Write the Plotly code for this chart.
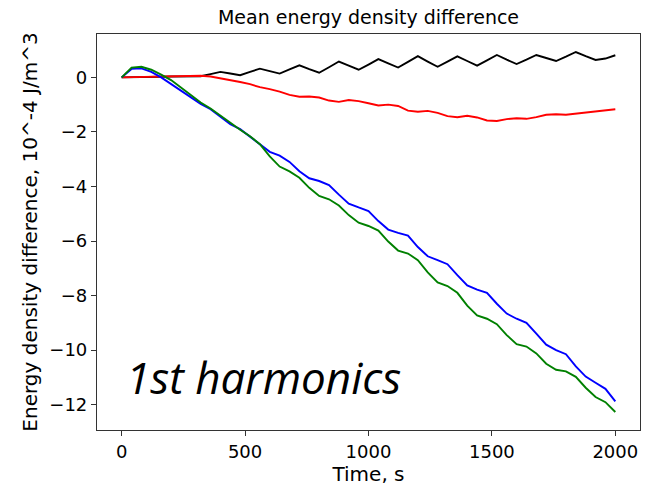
import plotly.graph_objects as go

# Sample times (s)
time_s = [0, 40, 80, 120, 160, 200, 240, 280, 320, 360, 400, 440, 480, 520, 560, 600,
          640, 680, 720, 760, 800, 840, 880, 920, 960, 1000, 1040, 1080, 1120, 1160,
          1200, 1240, 1280, 1320, 1360, 1400, 1440, 1480, 1520, 1560, 1600, 1640, 1680,
          1720, 1760, 1800, 1840, 1880, 1920, 1960, 2000]

# Mean energy density difference, 10^-4 J/m^3
black_vals = [0.0, 0.0, 0.01, 0.02, 0.02, 0.03, 0.03, 0.03, 0.04, 0.12, 0.2, 0.14, 0.08,
              0.2, 0.32, 0.23, 0.14, 0.29, 0.44, 0.3, 0.17, 0.37, 0.58, 0.43, 0.28, 0.47,
              0.67, 0.51, 0.36, 0.57, 0.78, 0.58, 0.39, 0.58, 0.77, 0.6, 0.43, 0.62, 0.82,
              0.65, 0.49, 0.65, 0.82, 0.71, 0.6, 0.76, 0.93, 0.78, 0.64, 0.69, 0.81]

red_vals = [0.0, 0.01, 0.02, 0.03, 0.04, 0.05, 0.06, 0.06, 0.06, 0.03, -0.03, -0.1, -0.17,
            -0.25, -0.36, -0.43, -0.52, -0.64, -0.71, -0.7, -0.74, -0.85, -0.9, -0.83,
            -0.87, -0.95, -1.03, -1.0, -1.05, -1.22, -1.26, -1.23, -1.3, -1.42, -1.46,
            -1.41, -1.47, -1.58, -1.6, -1.53, -1.5, -1.52, -1.46, -1.37, -1.35, -1.37,
            -1.33, -1.27, -1.23, -1.21, -1.17]

blue_vals = [0.0, 0.31, 0.33, 0.2, 0.0, -0.24, -0.48, -0.73, -0.97, -1.17, -1.45, -1.72,
             -1.9, -2.17, -2.47, -2.73, -2.87, -3.1, -3.44, -3.7, -3.8, -3.95, -4.3, -4.63,
             -4.77, -4.9, -5.27, -5.58, -5.7, -5.8, -6.22, -6.56, -6.7, -6.85, -7.25,
             -7.63, -7.78, -7.9, -8.3, -8.66, -8.85, -9.0, -9.4, -9.8, -10.0, -10.15,
             -10.6, -10.97, -11.2, -11.42, -11.88]

green_vals = [0.0, 0.36, 0.39, 0.28, 0.1, -0.1, -0.37, -0.65, -0.92, -1.14, -1.4, -1.68,
              -1.92, -2.16, -2.45, -2.9, -3.27, -3.45, -3.68, -4.05, -4.35, -4.47, -4.7,
              -5.05, -5.33, -5.45, -5.62, -6.02, -6.35, -6.46, -6.7, -7.15, -7.52, -7.65,
              -7.9, -8.37, -8.73, -8.85, -9.05, -9.45, -9.78, -9.87, -10.12, -10.5,
              -10.72, -10.78, -10.98, -11.38, -11.72, -11.91, -12.27]

x_ticks = [0, 500, 1000, 1500, 2000]
y_ticks = [0, -2, -4, -6, -8, -10, -12]

series = [
    (black_vals, "black"),
    (red_vals, "#ff0000"),
    (blue_vals, "#0000ff"),
    (green_vals, "#008000"),
]

fig = go.Figure()
for vals, color in series:
    fig.add_trace(go.Scatter(x=time_s, y=vals, mode="lines",
                             line=dict(color=color, width=1.9),
                             showlegend=False))

# Axis limits with 5% padding around the data
all_vals = black_vals + red_vals + blue_vals + green_vals
ymin, ymax = min(all_vals), max(all_vals)
ypad = 0.05 * (ymax - ymin)
xpad = 0.05 * (time_s[-1] - time_s[0])

font_family = "DejaVu Sans"
axis_common = dict(
    showgrid=False, zeroline=False, showline=True, mirror=True,
    linecolor="#333333", linewidth=1.2,
    ticks="outside", ticklen=5, tickwidth=1.2, tickcolor="#333333",
    tickfont=dict(family=font_family, size=18, color="black"),
)

fig.update_layout(
    width=646, height=486,
    margin=dict(l=97, r=6, t=34, b=56),
    paper_bgcolor="white", plot_bgcolor="white",
    title=dict(text="Mean energy density difference",
               font=dict(family=font_family, size=19, color="black"),
               x=(97 + 640) / 2 / 646, xanchor="center", y=0.965, yanchor="middle"),
    xaxis=dict(range=[time_s[0] - xpad, time_s[-1] + xpad], tickvals=x_ticks,
               title=dict(text="Time, s", font=dict(family=font_family, size=20, color="black"),
                          standoff=0),
               **axis_common),
    yaxis=dict(range=[ymin - ypad, ymax + ypad], tickvals=y_ticks,
               title=dict(text="Energy density difference, 10^-4 J/m^3",
                          font=dict(family=font_family, size=20, color="black"),
                          standoff=6),
               **axis_common),
    annotations=[dict(
        text="<i>1st harmonics</i>", xref="paper", yref="paper",
        x=0.05, y=0.135, xanchor="left", yanchor="middle", showarrow=False,
        font=dict(family="Open Sans", size=44, color="black"),
    )],
)

fig.write_html("out.html")
